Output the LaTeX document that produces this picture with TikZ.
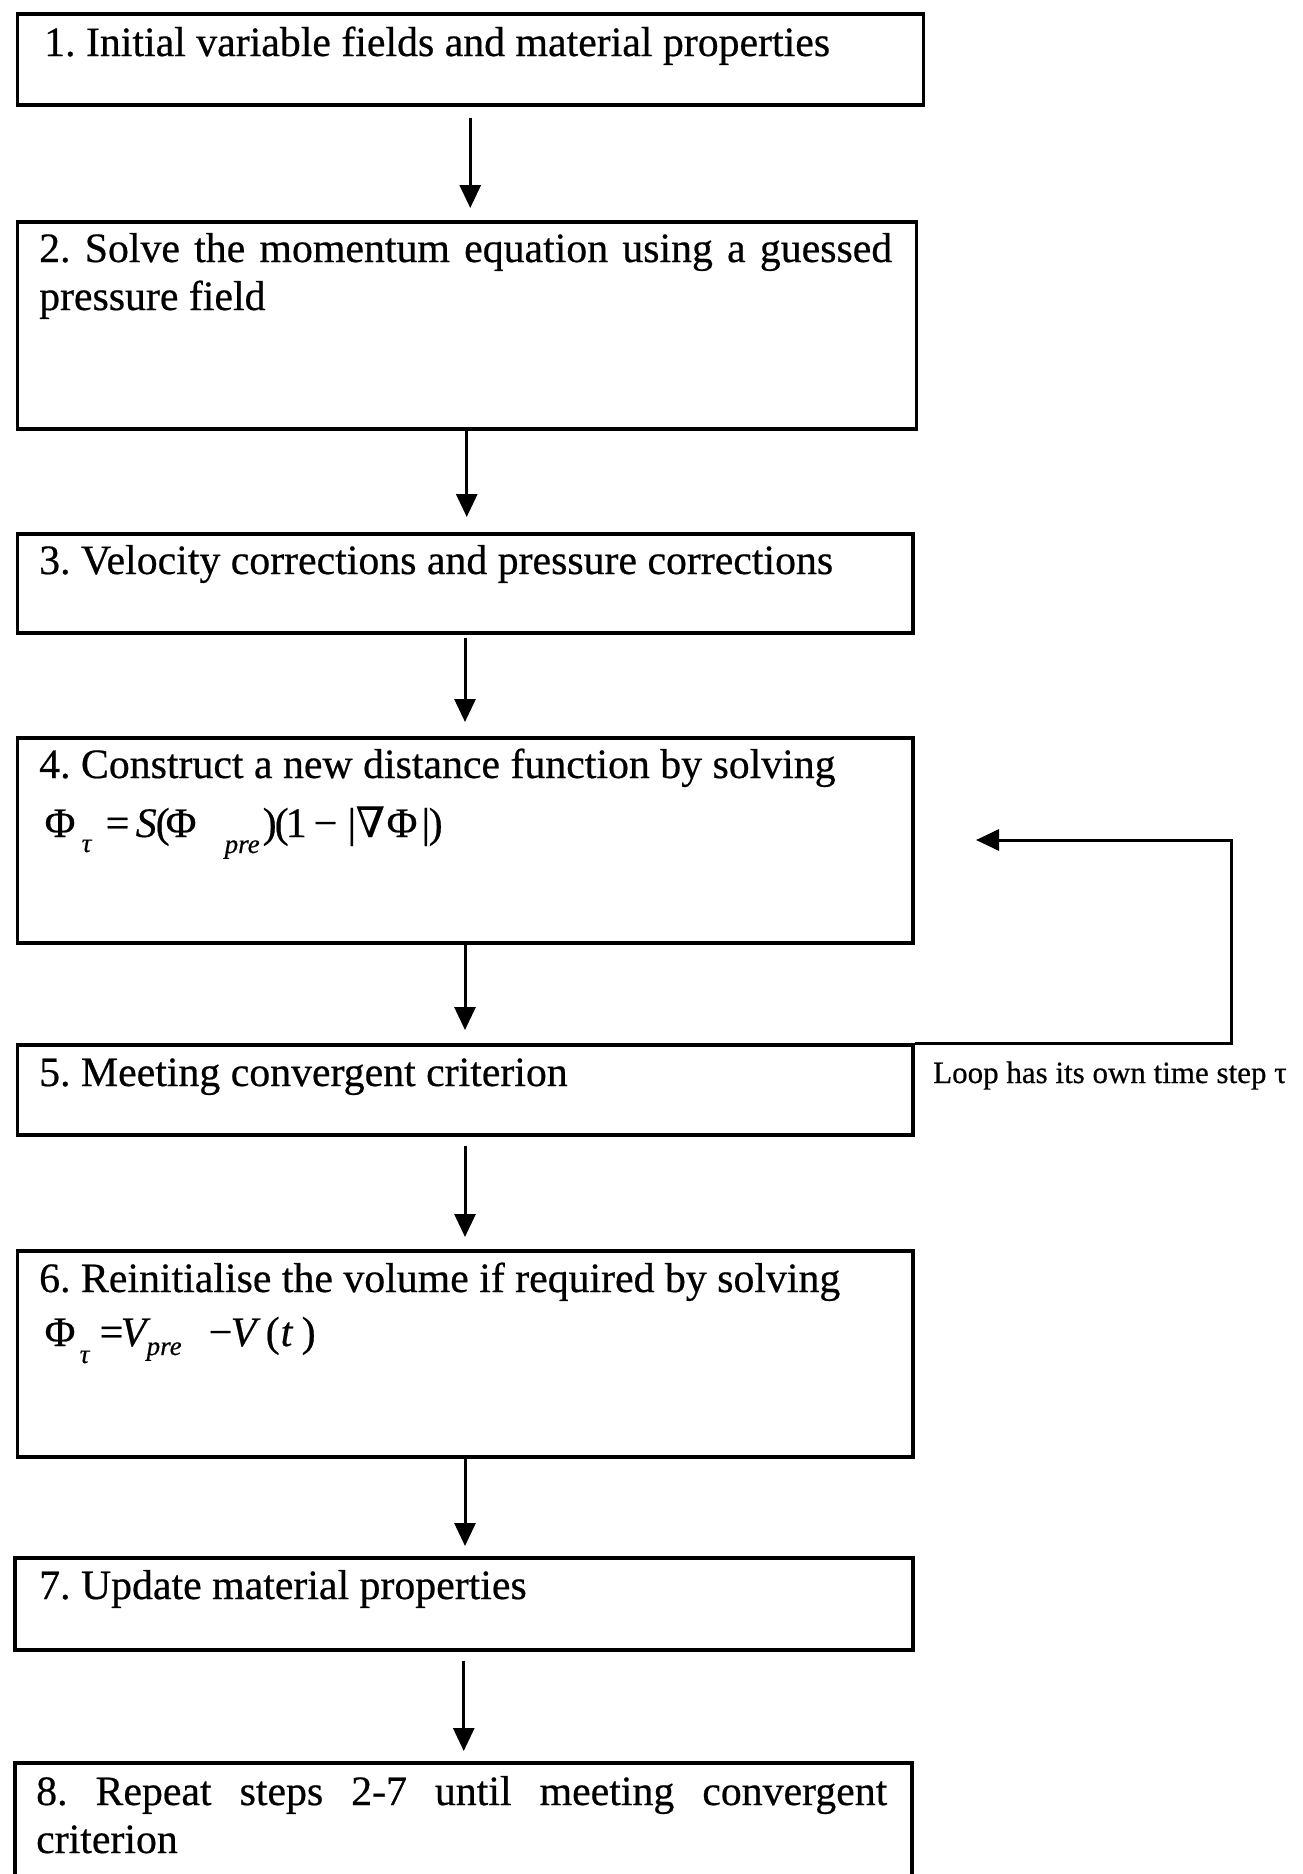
\documentclass[tikz,border=0pt]{standalone}
\usepackage{fontspec}
\setmainfont{Liberation Serif}[FakeBold=0.5]
\newfontfamily\dvs{DejaVu Serif}[FakeBold=0.3]
\usetikzlibrary{arrows.meta}
\newcommand{\lowsub}[2]{\raisebox{-#1}{\fontsize{27}{27}\selectfont\itshape #2}}
\newcommand{\placeat}[2]{\makebox[0pt][l]{\hspace*{#1}#2}}
\begin{document}
\frenchspacing
\begin{tikzpicture}[x=1pt,y=-1pt]
\tikzset{
 stagebox/.style={draw, line width=3.5pt, inner sep=0pt, anchor=north west},
 stagetext/.style={inner sep=0pt, anchor=base west, font=\fontsize{41.8}{48}\selectfont},
 formula/.style={inner sep=0pt, anchor=base west, font=\fontsize{42}{48}\selectfont},
 looptext/.style={inner sep=0pt, anchor=base west, font=\fontsize{31}{36}\selectfont},
 flowarrow/.style={line width=3pt, -{Triangle[length=23pt,width=21pt]}},
}
\useasboundingbox (0,0) rectangle (1303,1874);
\clip (0,0) rectangle (1303,1874);
\fill[white] (0,0) rectangle (1303,1874);

% boxes
\node[stagebox, minimum width=906pt, minimum height=91pt] (b1) at (15.5,12) {};
\node[stagebox, minimum width=899pt, minimum height=207pt] (b2) at (15.5,220) {};
\node[stagebox, minimum width=895.5pt, minimum height=99pt] (b3) at (15.5,532) {};
\node[stagebox, minimum width=895.5pt, minimum height=205pt] (b4) at (15.5,736) {};
\node[stagebox, minimum width=895.5pt, minimum height=90pt] (b5) at (15.5,1043) {};
\node[stagebox, minimum width=895.5pt, minimum height=206pt] (b6) at (15.5,1249) {};
\node[stagebox, minimum width=898pt, minimum height=92pt] (b7) at (13,1556) {};
\node[stagebox, minimum width=897pt, minimum height=150pt] (b8) at (13,1761) {};

% texts
\node[stagetext] (t1) at (44,56) {1. Initial variable fields and material properties};
\node[stagetext] (t2a) at (39,262) {\makebox[853pt][s]{2. Solve the momentum equation using a guessed}};
\node[stagetext] (t2b) at (39,310) {pressure field};
\node[stagetext] (t3) at (39,574) {3. Velocity corrections and pressure corrections};
\node[stagetext] (t4) at (39,778) {4. Construct a new distance function by solving};
\node[formula] (f4) at (44,837) {\placeat{0pt}{Φ}\placeat{37pt}{\lowsub{15pt}{τ}}\placeat{61pt}{=}\placeat{91pt}{\textit{S}}\placeat{111pt}{(}\placeat{121pt}{Φ}\placeat{180pt}{\lowsub{16pt}{pre}}\placeat{218pt}{)}\placeat{230pt}{(}\placeat{241pt}{1}\placeat{269pt}{−}\placeat{303pt}{|}\placeat{311pt}{{\dvs ∇}}\placeat{342pt}{Φ}\placeat{377pt}{|}\placeat{384pt}{)}};
\node[stagetext] (t5) at (39,1086) {5. Meeting convergent criterion};
\node[stagetext] (t6) at (39,1292) {6. Reinitialise the volume if required by solving};
\node[formula] (f6) at (44,1346) {\placeat{0pt}{Φ}\placeat{35pt}{\lowsub{17pt}{τ}}\placeat{55pt}{=}\placeat{76pt}{\textit{V}}\placeat{102pt}{\lowsub{9pt}{pre}}\placeat{164pt}{−}\placeat{186pt}{\textit{V}}\placeat{221pt}{(}\placeat{236pt}{\textit{t}}\placeat{257pt}{)}};
\node[stagetext] (t7) at (39,1599) {7. Update material properties};
\node[stagetext] (t8a) at (36,1805) {\makebox[851pt][s]{8. Repeat steps 2-7 until meeting convergent}};
\node[stagetext] (t8b) at (36,1853) {criterion};
\node[looptext] (loop) at (933,1083) {Loop has its own time step τ};

% connectors
\draw[flowarrow, shorten <=11pt, shorten >=12pt] (b1.south) -- (b1.south |- b2.north);
\draw[flowarrow, shorten <=0pt, shorten >=15pt] (b2.south) -- (b2.south |- b3.north);
\draw[flowarrow, shorten <=3pt, shorten >=14pt] (b3.south) -- (b3.south |- b4.north);
\draw[flowarrow, shorten <=0pt, shorten >=13pt] (b4.south) -- (b4.south |- b5.north);
\draw[flowarrow, shorten <=9pt, shorten >=12pt] (b5.south) -- (b5.south |- b6.north);
\draw[flowarrow, shorten <=0pt, shorten >=10pt] (b6.south) -- (b6.south |- b7.north);
\draw[flowarrow, shorten <=9pt, shorten >=10pt] (b7.south) -- (b7.south |- b8.north);

\coordinate (looptip) at (976,840);
\draw[flowarrow] (b5.north east) -- ++(317,0) |- (looptip);
\end{tikzpicture}
\end{document}
